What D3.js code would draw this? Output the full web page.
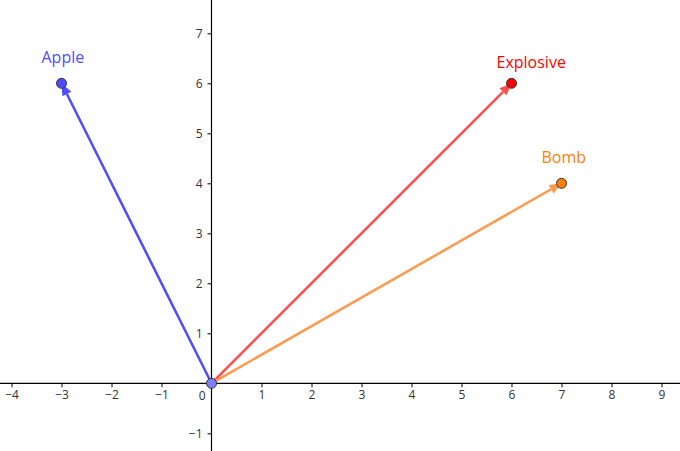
<!DOCTYPE html>
<html><head><meta charset="utf-8">
<script src="https://cdn.jsdelivr.net/npm/d3@7"></script>
<style>body{margin:0;background:#fff}svg{display:block}</style>
</head><body>
<svg id="c" width="680" height="451"></svg>
<script>
const names = ["Apple", "Explosive", "Bomb"];
const xs = [-3, 6, 7];
const ys = [6, 6, 4];
const lineColors = ["#4d4dff", "#ff4d4d", "#ff994d"];
const pointColors = ["#4d4dff", "#ff0000", "#ff7f00"];
const labelColors = ["#4d4dff", "#ff0000", "#ff7f00"];
const labelOffsets = [[-20, -20], [-15, -15], [-20, -20]];
const xTicks = [-4, -3, -2, -1, 1, 2, 3, 4, 5, 6, 7, 8, 9];
const yTicks = [-1, 1, 2, 3, 4, 5, 6, 7];

const W = 680, H = 451;
const svg = d3.select("#c");
const x = d3.scaleLinear().domain([-4.23, 9.37]).range([0, W]);
const y = d3.scaleLinear().domain([7.666, -1.354]).range([0, H]);
const font = "'Open Sans', sans-serif";

// x axis
const xa = svg.append("g").attr("transform", `translate(0,${y(0)})`)
  .call(d3.axisBottom(x).tickValues(xTicks).tickSize(4).tickPadding(3)
    .tickFormat(d => d < 0 ? "\u2212" + Math.abs(d) : d));
xa.select(".domain").remove();
xa.append("line").attr("x1", 0).attr("x2", W).attr("stroke", "#000").attr("stroke-width", 1.2);
xa.selectAll(".tick line").attr("stroke", "#000");
xa.selectAll("text").attr("fill", "#333").style("font", `12px ${font}`);

const ya = svg.append("g").attr("transform", `translate(${x(0)},0)`)
  .call(d3.axisLeft(y).tickValues(yTicks).tickSize(4).tickPadding(5)
    .tickFormat(d => d < 0 ? "\u2212" + Math.abs(d) : d));
ya.select(".domain").remove();
ya.append("line").attr("y1", 0).attr("y2", H).attr("stroke", "#000").attr("stroke-width", 1.2);
ya.selectAll(".tick line").attr("stroke", "#000");
ya.selectAll("text").attr("fill", "#333").style("font", `12px ${font}`);

svg.append("text").attr("x", x(0) - 6).attr("y", y(0) + 17).attr("text-anchor", "end")
  .attr("fill", "#333").style("font", `12px ${font}`).text("0");

// vectors
names.forEach((n, i) => {
  const x0 = x(0), y0 = y(0), x1 = x(xs[i]), y1 = y(ys[i]);
  const ang = Math.atan2(y1 - y0, x1 - x0);
  const L = 12, Wd = 5;
  const bx = x1 - L * Math.cos(ang), by = y1 - L * Math.sin(ang);
  svg.append("line").attr("x1", x0).attr("y1", y0).attr("x2", bx).attr("y2", by)
    .attr("stroke", lineColors[i]).attr("stroke-width", 2.5);
  const px = -Math.sin(ang), py = Math.cos(ang);
  svg.append("path")
    .attr("d", `M${x1},${y1}L${bx + px * Wd},${by + py * Wd}L${bx - px * Wd},${by - py * Wd}Z`)
    .attr("fill", lineColors[i]);
});

// origin point
svg.append("circle").attr("cx", x(0)).attr("cy", y(0)).attr("r", 5)
  .attr("fill", "#8080ff").attr("stroke", "#333").attr("stroke-width", 1);

names.forEach((n, i) => {
  svg.append("circle").attr("cx", x(xs[i])).attr("cy", y(ys[i])).attr("r", 5)
    .attr("fill", pointColors[i]).attr("stroke", "#333").attr("stroke-width", 1);
  svg.append("text").attr("x", x(xs[i]) + labelOffsets[i][0]).attr("y", y(ys[i]) + labelOffsets[i][1])
    .attr("fill", labelColors[i]).style("font", `16px ${font}`).text(n);
});
</script>
</body></html>
